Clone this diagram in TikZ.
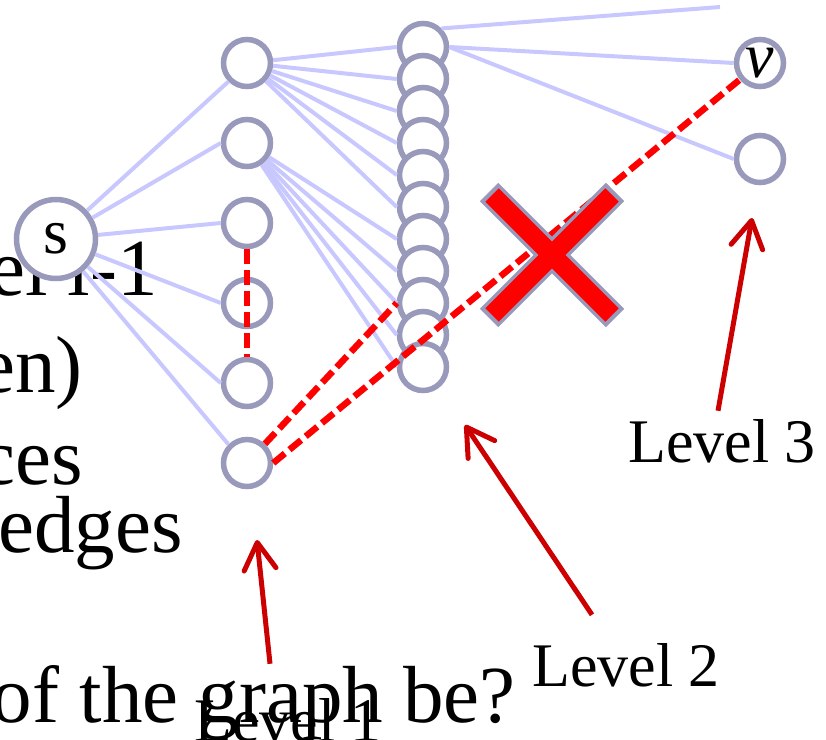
\documentclass[tikz,border=0pt]{standalone}
\usepackage{fontspec}
\setmainfont{Liberation Serif}
\usetikzlibrary{arrows.meta}

\definecolor{ringgray}{RGB}{153,153,187}
\definecolor{edgeblue}{RGB}{200,200,255}
\definecolor{arrowred}{RGB}{204,0,0}

\begin{document}
\begin{tikzpicture}[
    x=1pt, y=-1pt, % one unit = one pixel of the slide, y downwards
    vertex/.style={
      circle, draw=ringgray, fill=white, line width=5.5pt,
      minimum size=47pt, inner sep=0pt, font=\fontsize{64}{64}\selectfont
    },
    source/.style={vertex, minimum size=79pt},
    edge/.style={draw=edgeblue, line width=4pt},
    cut/.style={draw=red, line width=6.5pt, dash pattern=on 15pt off 6pt},
    levelarrow/.style={
      -{Straight Barb[length=27pt, width=32pt, round]},
      draw=arrowred, line width=5pt
    },
    levellabel/.style={font=\fontsize{62}{62}\selectfont, anchor=base, inner sep=2pt},
    slidetext/.style={font=\fontsize{81}{81}\selectfont, anchor=base east, inner sep=0pt},
  ]
  \useasboundingbox (0,0) rectangle (826,739);

  % Slide text behind the graph (cut off at the left)
  \node[slidetext] (txtlevel) at (158,295) {el i-1};
  \node[slidetext] (txtseen)  at (83,392)  {en)};
  \node[slidetext] (txtces)   at (83,484)  {ces};
  \node[slidetext] (txtedges) at (183,552) {edges};
  \node[slidetext] (txtgraph) at (516,722) {of the graph be?};

  % Source
  \node[source] (s) at (56,239) {s};

  % Level 1 (left column)
  \foreach \y [count=\i] in {63,143,223,303,383,463}
    \node[vertex] (a\i) at (247,\y) {};

  % Level 2 (stacked column, each one over the one above)
  \foreach \i in {1,...,11}
    \node[vertex] (b\i) at (423,{15+32*\i}) {};

  % Level 3
  \node[vertex] (v)  at (760,63)  {\raisebox{-4pt}{\textit{v}}};
  \node[vertex] (c2) at (760,159) {};
  \coordinate (topend) at (720,7);

  % BFS tree edges
  \draw[edge] (s) -- (a1.south west);
  \draw[edge] (s) -- (a2.west);
  \foreach \i in {3,4,5}
    \draw[edge] (s) -- (a\i.west);
  \draw[edge] (s) -- (a6.north west);
  \foreach \i in {1,...,6}
    \draw[edge] (a1) -- (b\i.west);
  \foreach \i in {7,...,11}
    \draw[edge] (a2) -- (b\i.west);
  \draw[edge] (b1.north east) -- (topend);
  \draw[edge] (b1.east) -- (v.west);
  \draw[edge] (b1.east) -- (c2.west);

  % Non-tree edges (dashed)
  \draw[cut] (a3.south) -- (a5.north);
  \draw[cut] (a6) -- (b9.west);
  \draw[cut] (a6.east) -- (v);

  % The cross over the long edge
  \draw[ringgray, line width=26pt] (489,192) -- (615,318) (489,318) -- (615,192);
  \draw[red, line width=19pt] (492,195) -- (612,315) (492,315) -- (612,195);

  % Level labels and arrows
  \node[levellabel] (lvl1) at (288,741) {Level 1};
  \node[levellabel] (lvl2) at (626,686) {Level 2};
  \node[levellabel] (lvl3) at (722,462) {Level 3};
  \coordinate (tip1) at (257,540);
  \coordinate (tip2) at (465,425);
  \coordinate (tip3) at (752,218);
  \draw[levelarrow] ([shift={(-18,-32)}]lvl1.north) -- (tip1);
  \draw[levelarrow] ([shift={(-34,-26)}]lvl2.north) -- (tip2);
  \draw[levelarrow] ([shift={(-4,-6)}]lvl3.north) -- (tip3);

\end{tikzpicture}
\end{document}
